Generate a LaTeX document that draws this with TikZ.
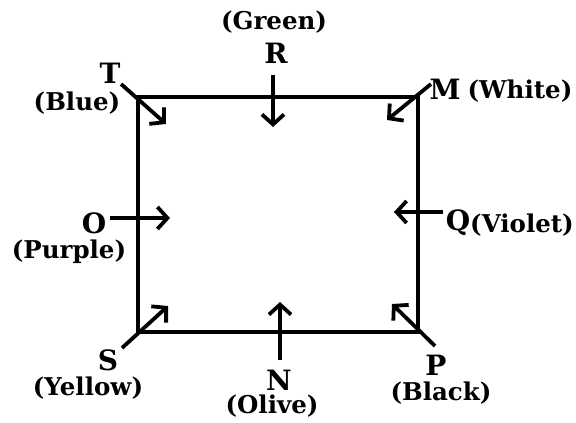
\documentclass[tikz,border=0pt]{standalone}
\usepackage{fontspec}
\setmainfont{DejaVu Serif}
\usetikzlibrary{arrows.meta}
\tikzset{
  letter/.style={font=\bfseries\fontsize{28}{28}\selectfont, inner sep=0pt},
  colour/.style={font=\bfseries\fontsize{24.5}{24.5}\selectfont, inner sep=0pt},
  facing/.style={line width=3.8pt, -{Straight Barb[length=10pt,width=22pt]}}
}
\begin{document}
\begin{tikzpicture}[x=1pt,y=-1pt]
\useasboundingbox (0,0) rectangle (576,423);
% the square
\draw[line width=4pt] (138,97) -- (418,97) -- (418,332) -- (138,332) -- cycle;
% persons
\node[letter] (r) at (276,53) {R};
\node[colour] (rc) at (274,22) {(Green)};
\node[letter] (t) at (110,73) {T};
\node[colour] (tc) at (77,103) {(Blue)};
\node[letter] (m) at (445,89) {M};
\node[colour] (mc) at (520,91) {(White)};
\node[letter] (o) at (94,223) {O};
\node[colour] (oc) at (69,252) {(Purple)};
\node[letter] (q) at (458,223) {Q};
\node[colour] (qc) at (522,225) {(Violet)};
\node[letter] (s) at (108,360) {S};
\node[colour] (sc) at (88,388) {(Yellow)};
\node[letter] (n) at (279,380) {N};
\node[colour] (nc) at (272,406) {(Olive)};
\node[letter] (p) at (436,365) {P};
\node[colour] (pc) at (441,393) {(Black)};
% facing directions
\coordinate (r0) at (273,75);  \coordinate (r1) at (273,127);
\coordinate (t0) at (121,84);  \coordinate (t1) at (166,124);
\coordinate (m0) at (431,84);  \coordinate (m1) at (387,120);
\coordinate (o0) at (110,218); \coordinate (o1) at (170,218);
\coordinate (q0) at (443,212); \coordinate (q1) at (394,212);
\coordinate (s0) at (122,348); \coordinate (s1) at (168,306);
\coordinate (n0) at (280,360); \coordinate (n1) at (280,302);
\coordinate (p0) at (435,346); \coordinate (p1) at (392,304);
\draw[facing] (r0) -- (r1);
\draw[facing] (t0) -- (t1);
\draw[facing] (m0) -- (m1);
\draw[facing] (o0) -- (o1);
\draw[facing] (q0) -- (q1);
\draw[facing] (s0) -- (s1);
\draw[facing] (n0) -- (n1);
\draw[facing] (p0) -- (p1);
\end{tikzpicture}
\end{document}
